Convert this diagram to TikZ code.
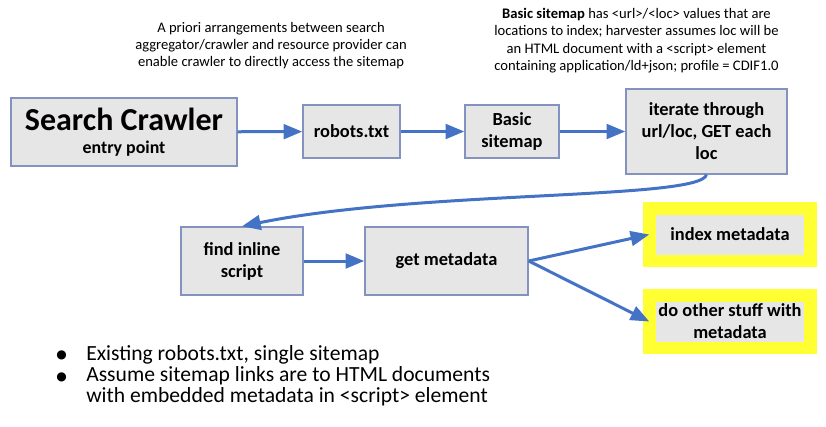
\documentclass[tikz,border=0pt]{standalone}
\usepackage{fontspec}
\setmainfont{Carlito}
\newfontfamily\symfont{DejaVu Sans}
\usetikzlibrary{arrows.meta}

\definecolor{flowblue}{HTML}{4472C4}
\definecolor{boxline}{HTML}{8392BE}
\definecolor{boxfill}{HTML}{E6E6E6}
\definecolor{hiyellow}{HTML}{FFFF33}

\tikzset{
	box/.style={shape=rectangle,draw=boxline,fill=boxfill,line width=1.1pt,inner sep=0pt,align=center,font=\fontsize{13.8}{16.5}\selectfont\bfseries},
	hilite/.style={box,draw=hiyellow,line width=9.4pt,outer sep=0pt,minimum width=121.1pt,minimum height=39.4pt},
	flow/.style={draw=flowblue,line width=2.25pt,-{Triangle[length=14pt,width=11pt]}},
	note/.style={align=center,font=\fontsize{10.95}{13}\selectfont}
}

\begin{document}
\begin{tikzpicture}[x=0.75pt,y=-0.75pt]
	\useasboundingbox (0,0) rectangle (826,426);

	\node[note] (arrange) at (271,45.5) {A priori arrangements between search\\aggregator/crawler and resource provider can\\enable crawler to directly access the sitemap};
	\node[note] (sitenote) at (636.5,40.5) {\textbf{Basic sitemap} has <url>/<loc> values that are\\locations to index; harvester assumes loc will be\\an HTML document with a <script> element\\containing application/ld+json; profile = CDIF1.0};

	\node[box,minimum width=169.5pt,minimum height=51pt] (crawler) at (124,132) {{\fontsize{24}{26}\selectfont Search Crawler}\\[1pt]{\fontsize{13.4}{15}\selectfont entry point}};
	\node[box,minimum width=72.75pt,minimum height=39.75pt] (robots) at (351.5,131.5) {robots.txt};
	\node[box,minimum width=70.5pt,minimum height=39.75pt] (basic) at (512,131.5) {Basic\\sitemap};
	\node[box,minimum width=120.75pt,minimum height=63.75pt] (iterate) at (706.5,131.5) {iterate through\\url/loc, GET each\\loc};
	\node[box,minimum width=91.5pt,minimum height=51pt] (inline) at (242,261) {find inline\\script};
	\node[box,minimum width=122.25pt,minimum height=51pt] (getmeta) at (446.5,261) {get metadata};
	\node[hilite] (index) at (730,234.5) {index metadata};
	\node[hilite] (other) at (730,321.5) {do other stuff with\\metadata};

	\path[flow] (crawler) -- (robots);
	\path[flow] (robots) -- (basic);
	\path[flow] (basic) -- (iterate);
	\path[flow] (iterate.south) .. controls (700,200) and (420,190) .. (inline.north);
	\path[flow] (inline) -- (getmeta);
	\path[flow] (getmeta.east) -- (index.west);
	\path[flow] (getmeta.east) -- (other.west);

	\node[font=\symfont\fontsize{9}{10}\selectfont] (bulletA) at (61.5,355) {●};
	\node[font=\symfont\fontsize{9}{10}\selectfont] (bulletB) at (61.5,377) {●};
	\node[anchor=west,align=left,inner sep=0pt,font=\fontsize{16.2}{15.9}\selectfont] (points) at (86,376) {Existing robots.txt, single sitemap\\Assume sitemap links are to HTML documents\\with embedded metadata in <script> element};
\end{tikzpicture}
\end{document}
